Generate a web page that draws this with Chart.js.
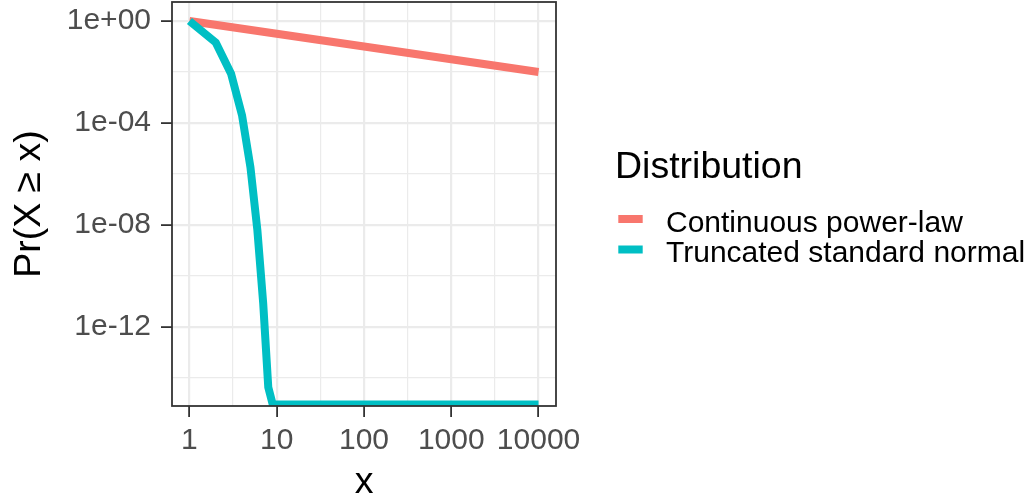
<!DOCTYPE html>
<html>
<head>
<meta charset="utf-8">
<script src="https://cdn.jsdelivr.net/npm/chart.js@4/dist/chart.umd.min.js"></script>
<style>
  html, body { margin: 0; padding: 0; background: #ffffff; }
  canvas { display: block; }
</style>
</head>
<body>
<canvas id="chart" width="1033" height="503"></canvas>
<script>
// Complementary CDFs, Pr(X >= x), on log-log axes
const seriesNames = ['Continuous power-law', 'Truncated standard normal'];
const seriesColors = ['#F8766D', '#00BFC4'];

const powerLawX = [1, 10, 100, 1000, 10000];
const powerLawY = [1, 0.316, 0.1, 0.0316, 0.01];

const normalX = [1, 2, 3, 4, 5, 6, 7, 8, 9, 10, 100, 1000, 10000];
const normalY = [1, 0.143, 0.0085, 2.0e-4, 1.8e-6, 6.2e-9, 8.1e-12, 4.2e-15,
                 8.8e-16, 8.8e-16, 8.8e-16, 8.8e-16, 8.8e-16];

const xTickValues = [1, 10, 100, 1000, 10000];
const xTickLabels = ['1', '10', '100', '1000', '10000'];
const xMinorBreaks = [3.1623, 31.623, 316.23, 3162.3];

const yTickValues = [1, 1e-4, 1e-8, 1e-12];
const yTickLabels = ['1e+00', '1e-04', '1e-08', '1e-12'];
const yMinorBreaks = [1e-2, 1e-6, 1e-10, 1e-14];

const legendTitle = 'Distribution';

const FONT = '"Liberation Sans", Arial, sans-serif';
const GRID = '#EBEBEB';
const DARK = '#333333';
const LINE_WIDTH = 8;

function toPoints(xs, ys) {
  return xs.map((x, i) => ({ x: x, y: ys[i] }));
}

function setTicks(majors, minors) {
  return function (scale) {
    scale.ticks = majors.map(v => ({ value: v, minor: false }))
      .concat(minors.map(v => ({ value: v, minor: true })))
      .sort((a, b) => a.value - b.value);
  };
}

function labelFor(values, labels) {
  return function (value) {
    for (let i = 0; i < values.length; i++) {
      if (Math.abs(Math.log10(value) - Math.log10(values[i])) < 1e-6) return labels[i];
    }
    return '';
  };
}

function fixSize(prop, size) {
  return function (s) {
    s[prop] = size;
    s.paddingTop = 0;
    s.paddingBottom = 0;
    s.paddingLeft = 0;
    s.paddingRight = 0;
  };
}

const isMinor = ctx => ctx.tick && ctx.tick.minor;

function gridOptions() {
  return {
    color: GRID,
    lineWidth: ctx => (isMinor(ctx) ? 1.2 : 2.2),
    tickColor: ctx => (isMinor(ctx) ? 'rgba(0,0,0,0)' : DARK),
    tickWidth: 1.8,
    tickLength: 11,
    drawTicks: true
  };
}

// Panel frame drawn above the data lines
const panelFrame = {
  id: 'panelFrame',
  afterDatasetsDraw(chart) {
    const { ctx, chartArea: a } = chart;
    ctx.save();
    ctx.strokeStyle = DARK;
    ctx.lineWidth = 1.8;
    ctx.strokeRect(a.left, a.top, a.right - a.left, a.bottom - a.top);
    ctx.restore();
  }
};

// Legend at the right of the panel
const sideLegend = {
  id: 'sideLegend',
  afterDraw(chart) {
    const ctx = chart.ctx;
    ctx.save();
    ctx.fillStyle = '#000000';
    ctx.textAlign = 'left';
    ctx.textBaseline = 'alphabetic';
    ctx.font = '37.5px ' + FONT;
    ctx.fillText(legendTitle, 615, 178);
    ctx.font = '30px ' + FONT;
    chart.data.datasets.forEach((ds, i) => {
      const cy = 219 + i * 30.5;
      ctx.strokeStyle = ds.borderColor;
      ctx.lineWidth = 8;
      ctx.lineCap = 'butt';
      ctx.beginPath();
      ctx.moveTo(618.3, cy);
      ctx.lineTo(642.7, cy);
      ctx.stroke();
      ctx.fillStyle = '#000000';
      ctx.fillText(ds.label, 666, cy + 12.5);
    });
    ctx.restore();
  }
};

new Chart(document.getElementById('chart'), {
  type: 'line',
  data: {
    datasets: [
      {
        label: seriesNames[0],
        data: toPoints(powerLawX, powerLawY),
        borderColor: seriesColors[0],
        backgroundColor: seriesColors[0],
        borderWidth: LINE_WIDTH,
        borderJoinStyle: 'round',
        pointRadius: 0,
        tension: 0,
        clip: 0,
        order: 1
      },
      {
        label: seriesNames[1],
        data: toPoints(normalX, normalY),
        borderColor: seriesColors[1],
        backgroundColor: seriesColors[1],
        borderWidth: LINE_WIDTH,
        borderJoinStyle: 'round',
        pointRadius: 0,
        tension: 0,
        clip: 0,
        order: 0
      }
    ]
  },
  options: {
    responsive: false,
    animation: false,
    events: [],
    layout: { padding: { left: 0, top: 2, right: 477, bottom: 0 } },
    plugins: { legend: { display: false }, tooltip: { enabled: false } },
    scales: {
      x: {
        type: 'logarithmic',
        position: 'bottom',
        bounds: 'data',
        min: Math.pow(10, -0.2),
        max: Math.pow(10, 4.2),
        afterBuildTicks: setTicks(xTickValues, xMinorBreaks),
        afterFit: fixSize('height', 97),
        border: { display: false },
        grid: gridOptions(),
        ticks: {
          autoSkip: false,
          maxRotation: 0,
          padding: 6,
          color: '#4D4D4D',
          font: { family: FONT, size: 30 },
          callback: labelFor(xTickValues, xTickLabels)
        },
        title: {
          display: true,
          text: 'x',
          color: '#000000',
          font: { family: FONT, size: 37.5, lineHeight: 1 },
          padding: { top: 0, bottom: 1.5 }
        }
      },
      y: {
        type: 'logarithmic',
        position: 'left',
        bounds: 'data',
        min: Math.pow(10, -15.114),
        max: Math.pow(10, 0.746),
        afterBuildTicks: setTicks(yTickValues, yMinorBreaks),
        afterFit: fixSize('width', 172),
        border: { display: false },
        grid: gridOptions(),
        ticks: {
          autoSkip: false,
          padding: 10,
          color: '#4D4D4D',
          font: { family: FONT, size: 30 },
          callback: labelFor(yTickValues, yTickLabels)
        },
        title: {
          display: true,
          text: 'Pr(X \u2265 x)',
          color: '#000000',
          font: { family: FONT, size: 37.5, lineHeight: 1 },
          padding: { top: 11, bottom: 0 }
        }
      }
    }
  },
  plugins: [panelFrame, sideLegend]
});
</script>
</body>
</html>
